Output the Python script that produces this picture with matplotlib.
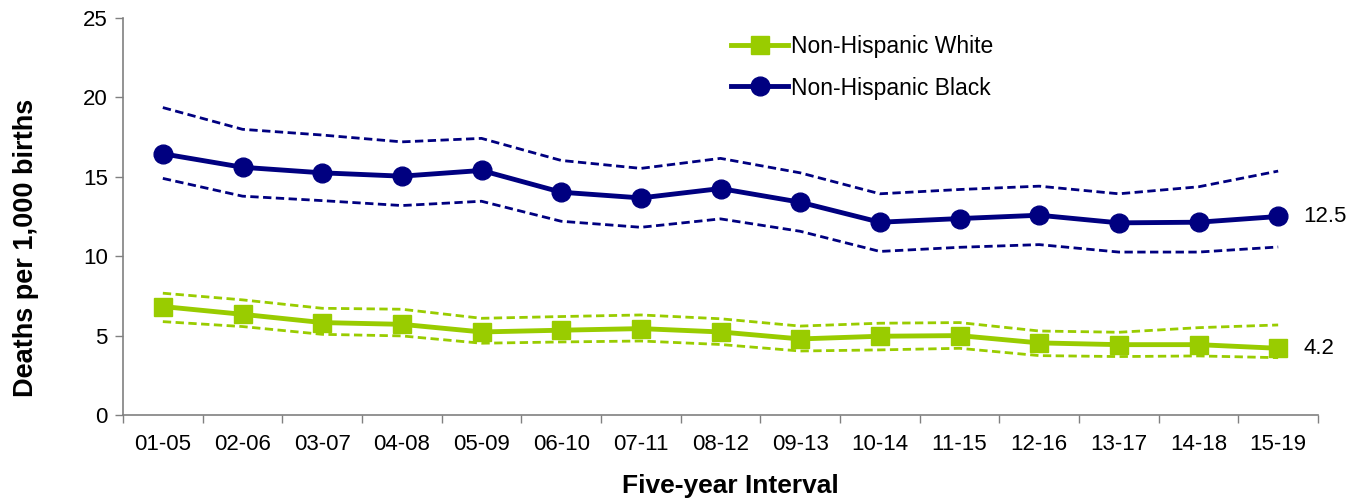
import matplotlib
matplotlib.use("Agg")
import matplotlib.pyplot as plt
import numpy as np

plt.rcParams['font.family'] = ['Liberation Sans', 'DejaVu Sans']

intervals = ["01-05", "02-06", "03-07", "04-08", "05-09", "06-10", "07-11", "08-12",
             "09-13", "10-14", "11-15", "12-16", "13-17", "14-18", "15-19"]

white = [6.83, 6.34, 5.82, 5.71, 5.23, 5.34, 5.44, 5.23, 4.79, 4.96, 5.0, 4.54, 4.43, 4.43, 4.2]
white_upper = [7.67, 7.25, 6.72, 6.66, 6.09, 6.2, 6.3, 6.06, 5.6, 5.78, 5.82, 5.29, 5.21, 5.5, 5.67]
white_lower = [5.88, 5.57, 5.08, 4.98, 4.52, 4.6, 4.66, 4.44, 4.03, 4.1, 4.2, 3.74, 3.68, 3.72, 3.61]

black = [16.45, 15.6, 15.25, 15.04, 15.4, 14.03, 13.67, 14.26, 13.4, 12.14, 12.37, 12.58, 12.1, 12.14, 12.5]
black_upper = [19.36, 17.99, 17.63, 17.2, 17.42, 16.03, 15.53, 16.16, 15.25, 13.93, 14.2, 14.41, 13.93, 14.37, 15.36]
black_lower = [14.9, 13.78, 13.5, 13.19, 13.46, 12.2, 11.82, 12.35, 11.57, 10.3, 10.56, 10.73, 10.26, 10.26, 10.58]

green = "#99CC00"
navy = "#000080"

fig = plt.figure(figsize=(13.66, 5.0), dpi=100)
ax = fig.add_axes([123/1366, 1-415/500, (1318-123)/1366, (415-18)/500])

x = np.arange(len(intervals))

for series, col in [(white_upper, green), (white_lower, green),
                    (black_upper, navy), (black_lower, navy)]:
    ax.plot(x, series, color=col, lw=2.0, dashes=(3, 1.6))

ax.plot(x, white, color=green, lw=3.5, marker='s', markersize=12.5,
        label="Non-Hispanic White")
ax.plot(x, black, color=navy, lw=3.5, marker='o', markersize=13.5,
        label="Non-Hispanic Black")

ax.annotate(f"{black[-1]:.1f}", (x[-1], black[-1]), xytext=(18, 0),
            textcoords='offset points', va='center', ha='left', fontsize=16)
ax.annotate(f"{white[-1]:.1f}", (x[-1], white[-1]), xytext=(18, 0),
            textcoords='offset points', va='center', ha='left', fontsize=16)

ax.set_xlim(-0.5, len(intervals) - 0.5)
ax.set_ylim(0, 25)
ax.set_yticks([0, 5, 10, 15, 20, 25])
ax.set_xticks(x)
ax.set_xticklabels(intervals)
ax.set_xticks(np.arange(-0.5, len(intervals), 1.0), minor=True)
ax.tick_params(axis='x', which='major', length=0, pad=14, labelsize=16)
ax.tick_params(axis='x', which='minor', length=6, color='#808080', width=1)
ax.tick_params(axis='y', which='major', length=6, color='#808080', width=1,
               labelsize=16, pad=5)

for s in ['top', 'right']:
    ax.spines[s].set_visible(False)
for s in ['left', 'bottom']:
    ax.spines[s].set_color('#808080')
    ax.spines[s].set_linewidth(1.2)

ax.set_xlabel("Five-year Interval", fontsize=19, fontweight='bold')
ax.xaxis.set_label_coords((730-123)/1195, (415-474)/397)
ax.set_ylabel("Deaths per 1,000 births", fontsize=19.5, fontweight='bold')
ax.yaxis.set_label_coords((39-123)/1195, (415-248)/397)

leg = ax.legend(loc='upper left', bbox_to_anchor=(722/1366, 1-26/500),
                bbox_transform=fig.transFigure, frameon=False,
                fontsize=16.5, handlelength=2.5, handletextpad=0.13,
                labelspacing=0.8, borderaxespad=0.0, borderpad=0.4)

fig.savefig("out.png", dpi=100)
